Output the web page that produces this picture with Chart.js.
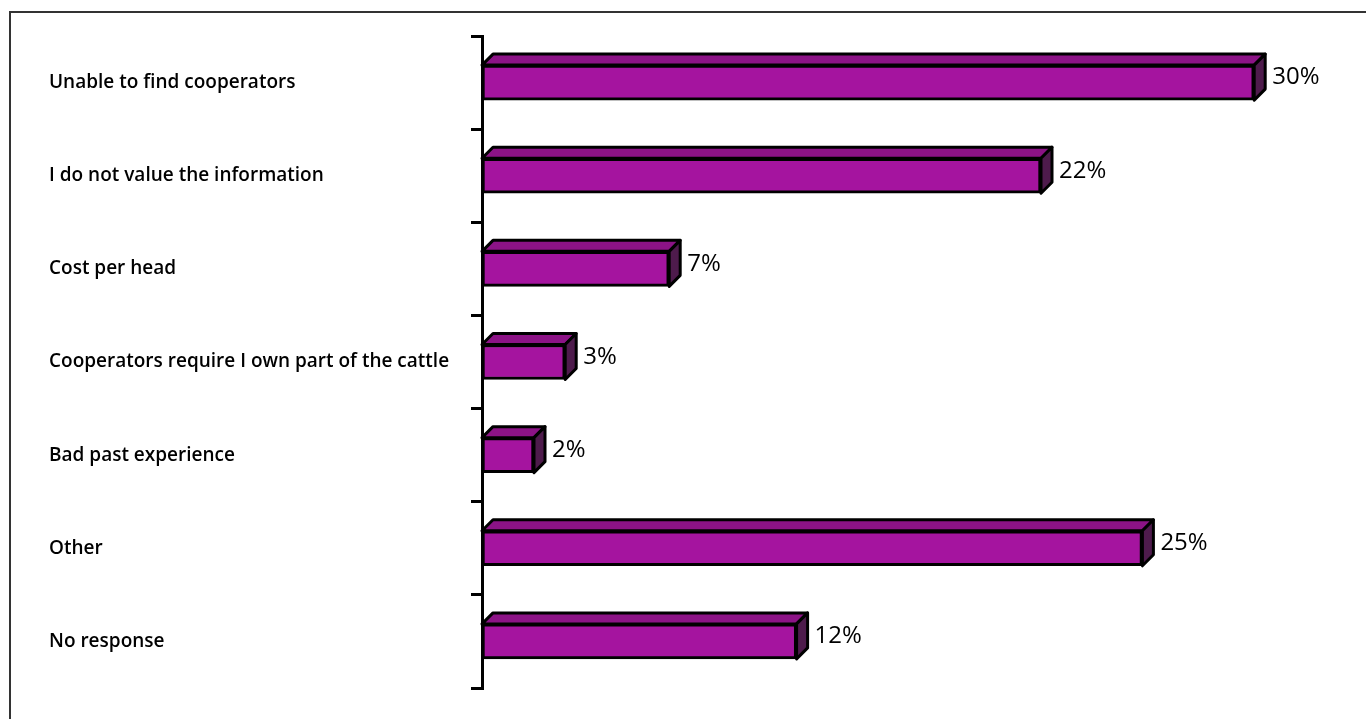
<!DOCTYPE html>
<html>
<head>
<meta charset="utf-8">
<script src="https://cdn.jsdelivr.net/npm/chart.js@4.4.0/dist/chart.umd.min.js"></script>
<style>
  html, body { margin: 0; padding: 0; background: #fff; overflow: hidden; }
  #frame { position: absolute; left: 9px; top: 11px; width: 1400px; height: 800px;
           border-left: 2px solid #333; border-top: 2px solid #333; }
  #wrap { position: absolute; left: 0; top: 0; width: 1366px; height: 719px; }
</style>
</head>
<body>
<div id="frame"></div>
<div id="wrap"><canvas id="myChart" width="1366" height="719"></canvas></div>
<script>
// reasons for not retaining ownership
var categories = [
  'Unable to find cooperators',
  'I do not value the information',
  'Cost per head',
  'Cooperators require I own part of the cattle',
  'Bad past experience',
  'Other',
  'No response'
];
var shares = [29.7, 21.5, 7.2, 3.2, 2.0, 25.4, 12.1];
var shareLabels = ['30%', '22%', '7%', '3%', '2%', '25%', '12%'];

var DEPTH = 11;

// draws the top and side faces plus the % labels
var bar3d = {
  id: 'bar3d',
  afterDatasetsDraw: function(chart) {
    var ctx = chart.ctx;
    var meta = chart.getDatasetMeta(0);
    ctx.save();
    ctx.lineWidth = 3;
    ctx.strokeStyle = '#000';
    ctx.lineJoin = 'round';
    meta.data.forEach(function(bar, i) {
      var p = bar.getProps(['x', 'y', 'base', 'height'], true);
      var top = p.y - p.height / 2;
      var bottom = p.y + p.height / 2;
      // top face
      ctx.beginPath();
      ctx.moveTo(p.base, top);
      ctx.lineTo(p.base + DEPTH, top - DEPTH);
      ctx.lineTo(p.x + DEPTH, top - DEPTH);
      ctx.lineTo(p.x, top);
      ctx.closePath();
      ctx.fillStyle = '#8c1386';
      ctx.fill();
      ctx.stroke();
      // side face
      ctx.beginPath();
      ctx.moveTo(p.x, top);
      ctx.lineTo(p.x + DEPTH, top - DEPTH);
      ctx.lineTo(p.x + DEPTH, bottom - DEPTH);
      ctx.lineTo(p.x, bottom);
      ctx.closePath();
      ctx.fillStyle = '#4e1b4c';
      ctx.fill();
      ctx.stroke();

      ctx.fillStyle = '#000';
      ctx.font = '24px "Open Sans"';
      ctx.textAlign = 'left';
      ctx.textBaseline = 'middle';
      ctx.fillText(shareLabels[i], p.x + DEPTH + 7, p.y - 5);
    });
    ctx.restore();
  }
};

var ctx = document.getElementById('myChart');
var myChart = new Chart(ctx, {
  type: 'bar',
  data: {
    labels: categories,
    datasets: [{
      data: shares,
      backgroundColor: '#a5149f',
      borderColor: '#000',
      borderWidth: 3,
      borderSkipped: false,
      barThickness: 35
    }]
  },
  options: {
    indexAxis: 'y',
    responsive: false,
    animation: false,
    events: [],
    layout: { padding: { left: 49, right: 26, top: 36, bottom: 31 } },
    plugins: {
      legend: { display: false },
      tooltip: { enabled: false }
    },
    scales: {
      x: { display: false, min: 0, max: 33 },
      y: {
        afterFit: function(scale) { scale.width = 433; },
        border: { display: true, color: '#000', width: 3 },
        grid: {
          display: true,
          drawOnChartArea: false,
          drawTicks: true,
          tickLength: 11,
          offset: true,
          color: '#000',
          lineWidth: 3
        },
        ticks: {
          crossAlign: 'far',
          color: '#000',
          font: { family: '"Open Sans"', size: 19, weight: '600' }
        }
      }
    }
  },
  plugins: [bar3d]
});
</script>
</body>
</html>
